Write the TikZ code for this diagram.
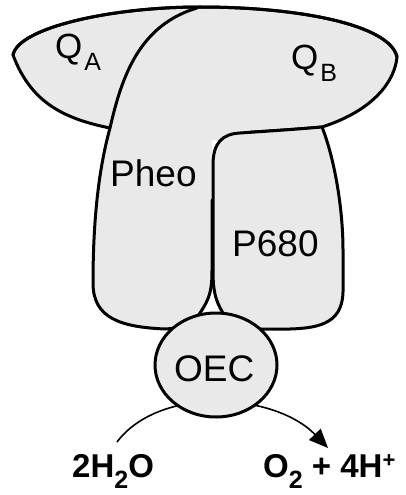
\documentclass[tikz,border=0pt]{standalone}
\usepackage{fontspec}
\setmainfont{Liberation Sans}
\usetikzlibrary{arrows.meta}
\definecolor{fillg}{RGB}{233,233,233}
\tikzset{
  outl/.style={line width=3pt, line join=round, line cap=round},
  lbl/.style={inner sep=0pt, anchor=base west, font=\fontsize{37}{42}\selectfont},
  blbl/.style={inner sep=0pt, anchor=base west, font=\fontsize{33}{38}\selectfont\bfseries},
  flow/.style={line width=1.6pt, -{Triangle[length=19pt,width=16pt]}}
}
\newcommand{\lowsub}[2]{\raisebox{-#1}{\fontsize{25}{25}\selectfont #2}}
\begin{document}
\begin{tikzpicture}[x=1pt,y=-1pt]
\useasboundingbox (0,0) rectangle (406,495);
% reaction arc (behind OEC)
\coordinate (h2o) at (117,442);
\coordinate (prod) at (328,448);
\draw[flow] (h2o) .. controls (160,385) and (275,393) .. (prod);
% cap oval
\filldraw[outl, fill=fillg] (13,55) .. controls (18,28) and (110,7) .. (200,7)
  .. controls (300,7) and (390,25) .. (397,57)
  .. controls (395,80) and (375,110) .. (322,127)
  .. controls (300,129) and (270,131) .. (238,133)
  -- (110,128)
  .. controls (60,118) and (30,100) .. (13,55) -- cycle;
% Pheo column fill
\fill[fillg] (197,8) .. controls (140,25) and (122,75) .. (110,128)
  .. controls (97,175) and (93,230) .. (93,283)
  .. controls (93,318) and (120,327) .. (165,329)
  .. controls (185,328) and (195,322) .. (200,313)
  .. controls (210,298) and (212,290) .. (212,270)
  -- (212,140) -- (250,140) -- (250,100) -- cycle;
% Pheo column outline
\draw[outl] (197,8) .. controls (140,25) and (122,75) .. (110,128)
  .. controls (97,175) and (93,230) .. (93,283)
  .. controls (93,318) and (120,327) .. (165,329)
  .. controls (185,328) and (195,322) .. (200,313)
  .. controls (210,298) and (212,290) .. (212,270)
  -- (212,200);
% redraw oval top
\draw[outl] (13,55) .. controls (18,28) and (110,7) .. (200,7)
  .. controls (300,7) and (390,25) .. (397,57);
% P680 column
\filldraw[outl, fill=fillg] (322,127) .. controls (335,160) and (343,210) .. (343,250)
  -- (343,288)
  .. controls (344,322) and (322,328) .. (290,329)
  -- (255,329)
  .. controls (235,328) and (226,320) .. (223,313)
  .. controls (215,300) and (213,290) .. (213,270)
  -- (213,165)
  .. controls (213,143) and (222,134) .. (240,133)
  .. controls (270,131) and (300,129) .. (322,127) -- cycle;
% OEC
\filldraw[outl, fill=fillg] (216,365) ellipse [x radius=61, y radius=52];
\node[lbl] (oec) at (174,381) {OEC};
% labels
\node[lbl, font=\fontsize{35}{40}\selectfont] (qa) at (55,59) {Q\kern2pt\lowsub{12pt}{A}};
\node[lbl, font=\fontsize{35}{40}\selectfont] (qb) at (291,70) {Q\kern2pt\lowsub{12pt}{B}};
\node[lbl] (pheo) at (110,186) {Pheo};
\node[lbl] (p680) at (232,256) {P680};
\node[blbl] (react) at (72,477) {2H\raisebox{-11pt}{\fontsize{25}{25}\selectfont\bfseries 2}O};
\node[blbl] (products) at (263,477) {O\raisebox{-11pt}{\fontsize{25}{25}\selectfont\bfseries 2} + 4H\raisebox{10pt}{\fontsize{22}{22}\selectfont\bfseries +}};
\end{tikzpicture}
\end{document}
